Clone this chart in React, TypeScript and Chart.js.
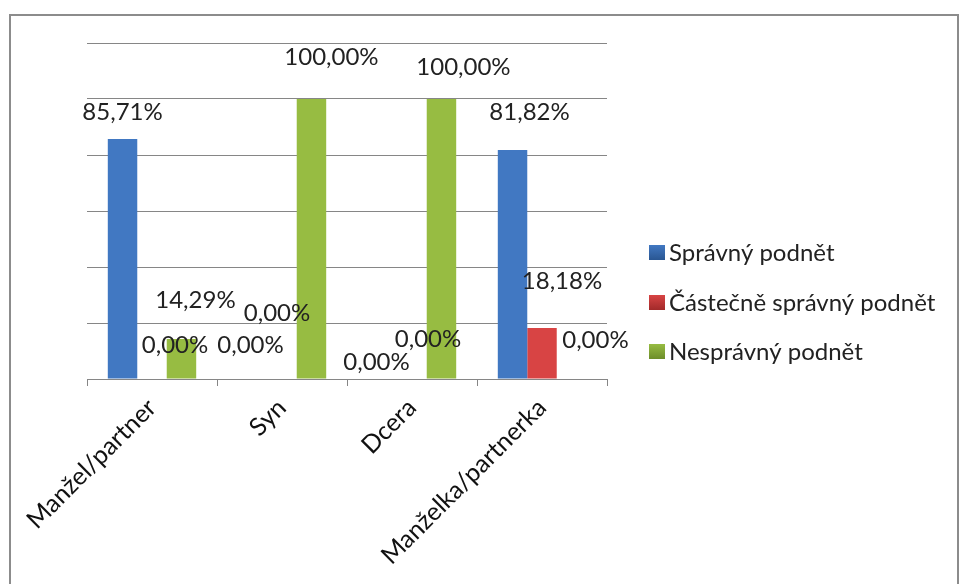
import React, { useEffect, useRef } from "react";
import { Chart, registerables } from "chart.js";

Chart.register(...registerables);

const categories = ["Manžel/partner", "Syn", "Dcera", "Manželka/partnerka"];
const seriesNames = ["Správný podnět", "Částečně správný podnět", "Nesprávný podnět"];
const spravny = [85.71, 0, 0, 81.82];
const castecne = [0, 0, 0, 18.18];
const nespravny = [14.29, 100, 100, 0];
const yMin = 0;
const yMax = 120;
const yStep = 20;

// label offsets (relative to bar top centre), mimicking the original placement
const labelOffsets = [
  [[0, -27], [-2, -34], [-6, -17], [17, -38]],
  [[23, -34], [-5, -66], [16, -40], [20, -47]],
  [[14, -39], [20, -42], [22, -32], [24, -39]],
];

const baseColors = [
  { mid: "#4178c2", edge: "#28548f" },
  { mid: "#d84444", edge: "#9e2828" },
  { mid: "#97bc42", edge: "#6a8a28" },
];

const FONT = "Lato, 'Open Sans', sans-serif";

function fmt(v: number) {
  return v.toFixed(2).replace(".", ",") + "%";
}

export default function App() {
  const ref = useRef<HTMLCanvasElement | null>(null);
  useEffect(() => {
    document.body.style.margin = "0";
    const canvas = ref.current!;
    const makeBg = (si: number) => (ctx: any) => {
      const el = ctx.element;
      const chart = ctx.chart;
      if (!el || !chart.chartArea) return baseColors[si].mid;
      const props = el.getProps(["x", "width"], true);
      const x0 = props.x - props.width / 2;
      const x1 = props.x + props.width / 2;
      if (!isFinite(x0) || !isFinite(x1) || x1 <= x0) return baseColors[si].mid;
      const g = chart.ctx.createLinearGradient(x0, 0, x1, 0);
      g.addColorStop(0, baseColors[si].edge);
      g.addColorStop(0.18, baseColors[si].mid);
      g.addColorStop(0.82, baseColors[si].mid);
      g.addColorStop(1, baseColors[si].edge);
      return g;
    };

    const labelPlugin = {
      id: "valLabels",
      afterDatasetsDraw(chart: any) {
        const c = chart.ctx;
        c.save();
        c.font = `24px ${FONT}`;
        c.fillStyle = "#222";
        c.textAlign = "center";
        c.textBaseline = "middle";
        chart.data.datasets.forEach((ds: any, i: number) => {
          const meta = chart.getDatasetMeta(i);
          meta.data.forEach((el: any, j: number) => {
            const off = labelOffsets[i][j];
            c.fillText(fmt(ds.data[j]), el.x + off[0], el.y + off[1]);
          });
        });
        c.restore();
      },
    };

    const legendPlugin = {
      id: "customLegend",
      afterDraw(chart: any) {
        const c = chart.ctx;
        c.save();
        c.font = `24px ${FONT}`;
        c.textBaseline = "middle";
        c.textAlign = "left";
        const rows = [253, 303, 352];
        chart.data.datasets.forEach((ds: any, i: number) => {
          const y = rows[i];
          const g = c.createLinearGradient(0, y - 8, 0, y + 8);
          g.addColorStop(0, baseColors[i].mid);
          g.addColorStop(1, baseColors[i].edge);
          c.fillStyle = g;
          c.fillRect(649, y - 8, 16, 15);
          c.fillStyle = "#222";
          c.fillText(ds.label, 669, y);
        });
        c.restore();
      },
    };

    const chart = new Chart(canvas, {
      type: "bar",
      data: {
        labels: categories,
        datasets: [spravny, castecne, nespravny].map((d, i) => ({
          label: seriesNames[i],
          data: d,
          backgroundColor: makeBg(i),
          borderColor: baseColors[i].edge,
          borderWidth: 0,
          barPercentage: 1,
          categoryPercentage: 0.68,
        })),
      },
      options: {
        responsive: false,
        animation: false,
        devicePixelRatio: 1,
        layout: { padding: { left: 87, right: 352, top: 43, bottom: 0 } },
        plugins: {
          legend: { display: false },
          tooltip: { enabled: false },
        },
        scales: {
          x: {
            grid: {
              display: true,
              drawOnChartArea: false,
              drawTicks: true,
              tickLength: 7,
              color: "#868686",
              offset: true,
            },
            border: { display: true, color: "#868686" },
            ticks: {
              autoSkip: false,
              minRotation: 45,
              maxRotation: 45,
              color: "#111",
              font: { family: FONT, size: 25 },
              padding: 7,
            },
            afterFit: (s: any) => {
              s.height = 584 - 379;
            },
          },
          y: {
            min: yMin,
            max: yMax,
            ticks: { stepSize: yStep, display: false },
            grid: { color: "#868686", drawTicks: false },
            border: { display: false },
            afterFit: (s: any) => {
              s.width = 0;
            },
          },
        },
      },
      plugins: [labelPlugin, legendPlugin],
    });
    return () => chart.destroy();
  }, []);

  return (
    <div style={{ position: "relative", width: 959, height: 584, overflow: "hidden", background: "#fff" }}>
      <div
        style={{
          position: "absolute",
          left: 9,
          top: 14,
          width: 946,
          height: 600,
          border: "2px solid #8c8c8c",
        }}
      />
      <canvas ref={ref} width={959} height={584} style={{ position: "absolute", left: 0, top: 0 }} />
    </div>
  );
}
